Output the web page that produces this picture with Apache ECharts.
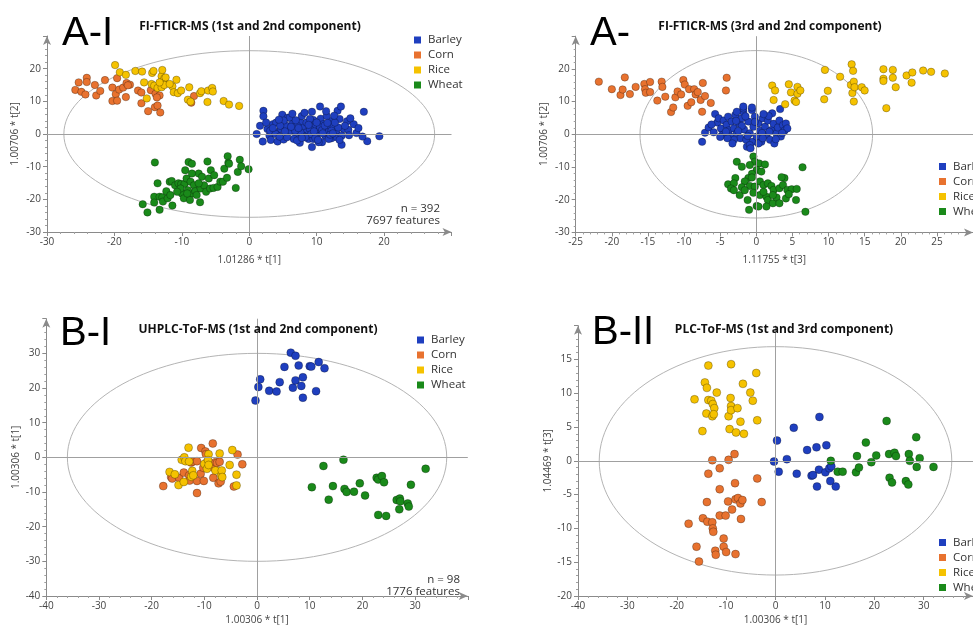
<!DOCTYPE html>
<html>
<head>
<meta charset="utf-8">
<script src="https://cdn.jsdelivr.net/npm/echarts@6.0.0/dist/echarts.min.js"></script>
<style>
  html, body { margin: 0; padding: 0; background: #fff; }
  #chart { width: 973px; height: 626px; }
</style>
</head>
<body>
<div id="chart"></div>
<script>
  // groups
  var groups = ['Barley', 'Corn', 'Rice', 'Wheat']
  var groupColors = ['#1f3fbf', '#e8722f', '#f5c200', '#1a8a1a']

  // A-I : FI-FTICR-MS, t[1] vs t[2]
  var a1Barley = [[1.1, 0.0], [2.1, 7.1], [2.1, 5.4], [2.0, -2.3], [1.6, 2.5], [2.7, 1.5], [3.0, -0.5], [3.2, -1.8], [3.5, 3.0], [4.0, 3.5], [4.1, 0.5], [4.2, -2.3], [4.9, 5.9], [4.7, 1.5], [5.1, -1.7], [5.5, 2.5], [5.7, 5.0], [6.0, 5.0], [5.8, 0.5], [6.4, 3.0], [6.6, 1.5], [7.0, -0.5], [7.5, -2.7], [7.6, 3.5], [7.8, 5.5], [8.1, 2.0], [8.5, 0.5], [8.8, -1.5], [9.3, -4.0], [9.3, 6.8], [9.5, 4.3], [9.8, 2.5], [10.3, 1.0], [10.5, 8.4], [10.6, 4.7], [10.8, -2.5], [11.0, 3.0], [11.3, -0.5], [11.8, 1.5], [12.0, 4.0], [12.2, -1.3], [12.5, 2.5], [12.9, 0.5], [13.1, 7.1], [13.4, 4.6], [13.6, 8.4], [13.7, -3.3], [14.0, 1.5], [14.5, 3.9], [14.7, 1.3], [15.5, 3.0], [15.9, 0.3], [17.0, 6.8], [17.5, -2.2], [19.3, -0.7], [5.1, 4.1], [6.6, -1.5], [8.0, -0.5], [9.0, 1.5], [10.0, -0.5], [11.5, 0.5], [9.5, -1.5], [7.1, 2.5], [6.1, 1.0], [8.5, 3.5], [10.5, 2.0], [12.2, 1.0], [13.2, 2.0], [3.1, 1.0], [3.9, 0.0], [4.6, 2.5], [7.6, 0.5], [9.0, 4.6], [10.0, 3.5], [11.5, 5.5], [12.7, 3.5], [5.6, -1.0], [7.1, -2.0], [10.3, -2.5], [11.8, -1.5], [13.0, -1.0], [13.7, -0.5], [14.2, 2.5], [6.8, 1.0], [9.2, 0.0], [10.8, 1.2], [8.3, -1.0], [12.0, -0.2], [9.8, -1.2], [7.3, 1.8], [11.2, 2.6], [3.5, 1.8], [4.5, -0.8], [5.3, 0.8], [6.2, 2.2], [6.9, 4.2], [7.8, -1.2], [8.8, 2.8], [9.6, 0.8], [10.2, -1.8], [10.9, 0.2], [11.6, 3.4], [12.4, 0.2], [13.4, -1.8], [14.8, -0.4], [16.2, 1.8], [15.0, 4.8], [8.2, 6.5], [6.4, 6.2], [11.4, 7.0], [12.6, 5.6], [4.4, 4.4], [2.5, 3.5], [16.8, -0.8]]
  var a1Corn = [[-25.8, 13.5], [-25.3, 15.8], [-24.9, 12.9], [-24.3, 12.1], [-24.1, 17.2], [-24.1, 15.9], [-22.9, 15.0], [-22.7, 11.8], [-22.1, 13.2], [-21.4, 16.5], [-20.3, 14.2], [-20.3, 10.1], [-19.8, 12.2], [-19.6, 10.2], [-19.6, 17.1], [-19.3, 13.6], [-18.7, 14.2], [-18.3, 11.3], [-18.2, 15.6], [-17.7, 15.1], [-18.0, 14.9], [-16.5, 13.3], [-16.0, 12.7], [-16.0, 9.4], [-15.0, 7.0], [-14.6, 13.4], [-14.0, 8.2], [-13.9, 12.3], [-13.6, 8.7], [-13.3, 11.8], [-13.2, 6.6], [-13.7, 11.2], [-8.2, 11.6], [-8.6, 9.6]]
  var a1Rice = [[-19.9, 21.1], [-19.2, 18.9], [-18.3, 18.1], [-16.9, 19.3], [-15.9, 19.1], [-15.6, 15.8], [-15.2, 10.9], [-14.4, 18.7], [-14.2, 19.3], [-14.5, 15.3], [-14.1, 14.8], [-13.6, 14.1], [-13.0, 17.7], [-12.9, 19.6], [-12.7, 15.9], [-12.6, 17.0], [-12.4, 17.3], [-13.0, 14.3], [-12.6, 15.0], [-11.4, 14.6], [-11.2, 12.8], [-10.8, 16.6], [-10.6, 12.5], [-10.1, 13.3], [-8.9, 14.3], [-9.1, 10.5], [-8.7, 9.9], [-7.3, 12.5], [-7.1, 13.1], [-6.2, 9.8], [-6.1, 13.3], [-5.5, 14.1], [-5.4, 13.0], [-3.8, 10.1], [-3.0, 9.0], [-1.5, 8.6], [-13.3, 15.8], [-11.8, 15.3]]
  var a1Wheat = [[-14.0, -8.7], [-15.8, -21.5], [-15.1, -24.0], [-14.1, -19.2], [-13.3, -19.2], [-14.1, -21.0], [-13.6, -15.1], [-13.3, -23.2], [-12.9, -19.4], [-12.8, -20.7], [-12.3, -17.5], [-12.1, -19.7], [-11.8, -14.6], [-11.5, -14.4], [-11.4, -21.9], [-11.0, -15.7], [-10.5, -15.1], [-10.1, -15.3], [-10.0, -18.2], [-9.6, -15.3], [-9.3, -13.6], [-9.5, -11.1], [-9.0, -8.6], [-8.5, -9.1], [-8.7, -14.6], [-8.2, -15.7], [-8.5, -18.2], [-9.1, -17.2], [-9.7, -19.7], [-8.8, -20.2], [-8.0, -17.5], [-7.8, -18.7], [-7.5, -12.1], [-7.3, -20.9], [-7.2, -16.7], [-7.0, -13.1], [-6.7, -15.7], [-6.2, -8.4], [-6.4, -17.7], [-6.0, -13.6], [-5.8, -16.7], [-5.7, -11.1], [-5.3, -16.5], [-5.2, -12.6], [-4.7, -16.2], [-4.3, -14.6], [-3.9, -14.6], [-3.7, -10.6], [-3.3, -13.4], [-3.2, -6.8], [-3.1, -8.8], [-3.0, -9.1], [-2.0, -16.5], [-1.7, -11.6], [-1.4, -7.9], [-1.2, -9.9], [-0.1, -10.8], [-10.2, -16.7], [-10.7, -17.7], [-11.7, -18.7], [-7.5, -15.1], [-8.5, -12.1], [-9.2, -18.2]]

  // A-II : FI-FTICR-MS, t[3] vs t[2]
  var a2Barley = [[-7.5, -2.3], [-7.1, 0.5], [-6.6, 2.1], [-5.9, 0.6], [-5.7, 6.2], [-5.4, 3.6], [-5.2, 4.9], [-4.9, 1.8], [-4.7, -0.2], [-4.5, 4.2], [-4.1, 2.9], [-3.9, 5.4], [-3.8, 1.2], [-3.6, -0.7], [-3.4, 3.9], [-3.1, 1.8], [-2.9, 5.9], [-2.7, 0.3], [-2.4, 3.4], [-2.2, -1.2], [-2.0, 4.9], [-1.8, 6.9], [-1.7, 1.5], [-1.4, -1.7], [-1.3, -3.8], [-1.1, 3.9], [-0.9, 0.3], [-0.6, 7.4], [-0.5, -2.3], [-0.4, 2.3], [-0.2, 5.4], [0.05, -0.7], [0.3, 3.4], [0.5, 1.1], [0.7, -2.3], [0.9, 4.9], [1.2, 2.3], [1.4, -0.2], [1.6, 4.2], [1.9, -1.7], [2.1, 1.3], [2.2, 6.4], [2.4, 3.2], [2.5, -2.8], [2.8, 0.3], [3.0, 2.1], [3.2, 4.2], [3.3, 7.7], [3.4, -0.7], [3.7, 2.8], [3.9, 1.1], [4.1, 3.3], [4.3, 1.8], [-3.1, -1.7], [-4.0, -1.2], [0.3, -2.8], [-0.9, -3.3], [-1.8, 7.9], [-2.7, 6.9], [-1.8, 8.5], [-0.6, 8.2], [-1.2, -0.5], [0.8, 0.4], [-2.0, 2.6], [1.8, 0.8], [-6.2, 3.0], [-5.0, -0.8], [-3.3, -2.8], [-2.5, 1.0], [-1.5, 5.5], [-0.2, 3.8], [0.9, -1.2], [1.7, 5.6], [2.7, -1.5], [3.6, 0.4], [-4.2, 0.8], [-2.8, 4.1], [1.0, 6.2], [-0.8, -4.3]]
  var a2Corn = [[-21.8, 16.1], [-20.0, 13.8], [-18.8, 12.0], [-18.5, 13.7], [-18.2, 17.4], [-17.5, 12.3], [-16.7, 14.5], [-15.5, 15.4], [-15.4, 13.8], [-15.3, 12.7], [-14.7, 16.0], [-14.7, 12.9], [-13.7, 10.3], [-13.1, 16.1], [-13.0, 14.5], [-12.6, 11.5], [-11.8, 6.8], [-11.5, 8.2], [-11.2, 11.3], [-10.9, 13.1], [-10.4, 12.2], [-10.1, 16.6], [-9.9, 15.2], [-9.5, 8.7], [-9.3, 13.8], [-9.0, 9.8], [-8.6, 13.8], [-8.4, 12.2], [-8.1, 12.9], [-7.7, 10.5], [-7.5, 6.9], [-7.4, 15.7], [-7.1, 11.7], [-6.3, 9.6], [-4.2, 13.4], [-4.1, 17.3]]
  var a2Rice = [[2.2, 14.9], [2.6, 13.4], [2.4, 10.5], [4.0, 9.2], [4.5, 15.3], [4.8, 12.8], [5.3, 10.3], [5.5, 9.9], [5.7, 14.5], [5.7, 12.4], [6.1, 13.4], [9.5, 19.7], [9.4, 10.7], [9.9, 13.3], [11.6, 17.6], [13.2, 21.4], [13.4, 19.4], [13.1, 15.1], [13.5, 16.1], [13.3, 12.6], [13.5, 10.0], [13.6, 14.4], [14.6, 14.4], [15.0, 13.4], [17.6, 19.9], [17.6, 17.0], [17.6, 16.3], [18.0, 8.0], [18.9, 19.7], [18.9, 17.3], [19.3, 14.4], [20.8, 18.0], [21.5, 15.8], [21.6, 18.9], [23.1, 19.5], [24.2, 19.1], [26.1, 18.6]]
  var a2Wheat = [[-2.7, -8.4], [-2.0, -9.9], [-0.4, -6.8], [-0.2, -8.4], [0.4, -8.9], [1.2, -9.2], [-0.9, -9.4], [0.05, -10.9], [0.7, -11.4], [-0.6, -12.1], [-1.1, -13.4], [-2.9, -13.4], [-1.6, -14.4], [-3.9, -15.3], [-3.1, -15.0], [-2.0, -16.2], [-0.9, -15.8], [-0.2, -16.0], [0.5, -14.4], [1.0, -15.5], [1.6, -15.0], [2.1, -15.8], [2.4, -17.0], [3.2, -16.5], [3.7, -15.5], [3.9, -13.4], [3.5, -13.1], [4.3, -17.0], [4.9, -16.8], [5.6, -16.7], [6.4, -10.1], [6.8, -23.7], [-3.5, -16.6], [-2.3, -18.6], [-1.2, -20.1], [0.05, -21.9], [-1.0, -23.1], [0.5, -18.6], [1.4, -19.1], [1.6, -20.1], [2.3, -21.1], [2.8, -19.3], [3.2, -21.1], [4.1, -19.6], [4.5, -18.3], [5.5, -20.1], [-3.1, -17.1], [-1.6, -17.1], [-0.4, -17.9], [1.0, -17.6], [2.3, -18.6], [0.3, -22.1], [-0.6, -13.2], [1.4, -22.1]]

  // B-I : UHPLC-ToF-MS, t[1] vs t[2]
  var b1Barley = [[-0.3, 16.4], [0.25, 20.3], [0.6, 22.5], [2.3, 19.2], [3.7, 19.0], [4.3, 21.7], [5.2, 26.1], [6.4, 30.2], [6.8, 20.1], [7.3, 29.3], [7.3, 22.2], [7.9, 26.5], [8.4, 20.6], [8.7, 23.1], [8.7, 17.2], [10.0, 26.3], [10.3, 26.2], [11.2, 19.1], [11.7, 27.5], [12.8, 25.7]]
  var b1Corn = [[-17.8, -8.3], [-16.3, -5.7], [-16.1, -6.1], [-14.8, -5.9], [-13.9, -4.4], [-12.9, -5.2], [-12.8, -6.7], [-12.5, -1.5], [-12.2, -1.2], [-11.4, -10.3], [-11.4, -1.1], [-11.4, -6.8], [-10.7, -4.7], [-10.6, 2.7], [-10.2, -3.0], [-10.1, -6.8], [-9.8, 1.7], [-9.7, 0.9], [-9.5, -1.4], [-8.4, 4.0], [-8.3, -5.9], [-8.2, -3.0], [-7.9, -1.4], [-7.6, -1.6], [-7.3, -7.5], [-7.1, -1.3], [-6.9, -7.0], [-4.4, -8.4], [-3.7, 0.8], [-2.8, -2.0]]
  var b1Rice = [[-16.6, -4.2], [-15.6, -4.9], [-14.9, -8.0], [-14.3, -0.7], [-13.9, -7.1], [-13.8, 0.0], [-13.6, -1.1], [-13.0, 2.8], [-12.9, -1.2], [-12.5, -5.6], [-12.3, -3.9], [-12.1, -5.2], [-10.0, -1.9], [-9.5, -3.3], [-9.2, 0.9], [-9.3, -0.8], [-9.2, -2.2], [-7.9, -3.8], [-7.1, 1.1], [-6.8, -5.2], [-6.7, -3.8], [-6.6, -5.7], [-5.2, -2.2], [-4.7, 2.1], [-3.9, -5.0], [-3.9, -8.1]]
  var b1Wheat = [[10.4, -8.6], [12.6, -2.5], [13.6, -12.2], [14.4, -8.3], [16.4, -0.7], [16.6, -9.1], [17.0, -10.0], [18.4, -9.9], [19.5, -7.5], [20.5, -11.0], [22.7, -5.9], [23.0, -6.4], [23.0, -16.6], [23.7, -5.4], [24.1, -7.2], [24.5, -16.9], [26.5, -12.3], [27.1, -11.9], [27.2, -12.7], [27.0, -15.0], [28.6, -13.3], [28.8, -14.2], [29.2, -7.9], [32.0, -3.3]]

  // B-II : UHPLC-ToF-MS, t[1] vs t[3]
  var b2Barley = [[-0.3, -0.1], [0.3, 3.0], [0.65, -1.6], [2.3, 0.25], [3.7, 4.9], [4.3, -1.9], [6.4, 1.6], [7.3, -2.2], [7.6, -2.1], [8.3, 2.0], [8.4, -3.8], [8.8, -1.3], [8.9, 6.5], [10.1, -1.7], [10.3, 2.3], [10.9, -1.1], [11.1, -3.0], [11.3, -0.8], [12.2, -3.8]]
  var b2Corn = [[-17.6, -9.3], [-16.0, -12.7], [-15.5, -14.9], [-14.7, -8.5], [-13.9, -6.1], [-13.8, -9.0], [-13.6, -1.9], [-12.8, 0.1], [-12.8, -9.1], [-12.7, -10.0], [-12.6, -10.5], [-12.2, -13.3], [-12.1, -13.9], [-11.3, -1.1], [-11.3, -4.2], [-11.3, -8.1], [-10.5, -11.5], [-10.5, -12.7], [-10.1, -8.1], [-10.0, -13.5], [-9.6, -6.0], [-9.5, 0.15], [-8.8, -7.2], [-8.3, 1.0], [-8.2, -3.3], [-8.1, -5.7], [-8.1, -13.8], [-7.6, -5.5], [-7.1, -6.3], [-7.0, -8.6], [-6.7, -5.8], [-3.7, -2.6], [-2.8, -6.1]]
  var b2Rice = [[-16.4, 9.1], [-14.8, 4.4], [-14.3, 11.6], [-14.0, 7.0], [-13.9, 10.8], [-13.6, 14.1], [-13.6, 9.0], [-13.0, 8.9], [-12.8, 6.6], [-12.7, 8.4], [-12.4, 7.8], [-12.5, 6.9], [-11.9, 10.1], [-9.5, 6.6], [-9.3, 4.7], [-9.1, 9.3], [-9.0, 14.3], [-9.0, 8.1], [-9.0, 7.5], [-8.0, 4.2], [-7.7, 7.8], [-7.1, 5.8], [-6.6, 11.4], [-6.4, 4.0], [-5.1, 10.1], [-4.6, 8.9], [-3.9, 13.0], [-3.7, 6.0]]
  var b2Wheat = [[11.2, 0.0], [12.6, -1.6], [13.6, -1.6], [16.3, -1.7], [16.5, 0.7], [16.9, -1.0], [18.3, 2.7], [19.4, -0.2], [20.4, 0.8], [22.5, 5.9], [23.0, 1.0], [23.1, -2.5], [23.6, -3.2], [24.1, 1.2], [24.4, 0.7], [26.4, -3.0], [26.9, -3.5], [27.0, 1.0], [27.2, 0.0], [28.5, 3.5], [28.6, -0.9], [29.2, 0.4], [32.0, -0.9]]

  // Hotelling ellipses [cx, cy, rx, ry]
  var a1Ellipse = [0, 0, 27.5, 25.5]
  var a2Ellipse = [0, 0, 16.1, 25.6]
  var b1Ellipse = [0, 0, 36, 30]
  var b2Ellipse = [0, 0, 35.7, 16.9]

  // axis ranges [min, max, interval]
  var a1X = [-30, 30, 10], a1Y = [-30, 30, 10]
  var a2X = [-25, 30, 5], a2Y = [-30, 30, 10]
  var b1X = [-40, 40, 10], b1Y = [-40, 40, 10]
  var b2X = [-40, 40, 10], b2Y = [-20, 20, 5]

  var axisNames = [
    ['1.01286 * t[1]', '1.00706 * t[2]'],
    ['1.11755 * t[3]', '1.00706 * t[2]'],
    ['1.00306 * t[1]', '1.00306 * t[1]'],
    ['1.00306 * t[1]', '1.04469 * t[3]']
  ]
  var panelTitles = ['FI-FTICR-MS (1st and 2nd component)', 'FI-FTICR-MS (3rd and 2nd component)',
    'UHPLC-ToF-MS (1st and 2nd component)', 'PLC-ToF-MS (1st and 3rd component)']
  var panelLabels = ['A-I', 'A-', 'B-I', 'B-II']

  var FONT = '"Open Sans", "Noto Sans", sans-serif'
  var panels = [
    { data: [a1Barley, a1Corn, a1Rice, a1Wheat], ell: a1Ellipse, x: a1X, y: a1Y, size: 7.5 },
    { data: [a2Barley, a2Corn, a2Rice, a2Wheat], ell: a2Ellipse, x: a2X, y: a2Y, size: 7.5 },
    { data: [b1Barley, b1Corn, b1Rice, b1Wheat], ell: b1Ellipse, x: b1X, y: b1Y, size: 8 },
    { data: [b2Barley, b2Corn, b2Rice, b2Wheat], ell: b2Ellipse, x: b2X, y: b2Y, size: 8 }
  ]
  var grids = [
    { left: 47, top: 36, width: 404.5, height: 196 },
    { left: 575.7, top: 36.2, width: 405, height: 196.2 },
    { left: 46.3, top: 318.7, width: 421.5, height: 282.3 },
    { left: 578, top: 325.7, width: 405.2, height: 272.3 }
  ]
  var nameGaps = [[23, 27], [23, 27], [19, 25], [19, 23]]

  function makeAxis(range, idx, name, gap, isX) {
    return {
      type: 'value', gridIndex: idx, min: range[0], max: range[1], interval: range[2],
      name: name, nameLocation: 'middle', nameGap: gap,
      nameTextStyle: { fontSize: 10, color: '#444', fontFamily: FONT },
      axisLine: { onZero: false, lineStyle: { color: '#8a8a8a', width: 1 }, symbol: ['none', 'arrow'], symbolSize: [6, 9] },
      axisTick: { show: true, length: 4, lineStyle: { color: '#8a8a8a' } },
      minorTick: { show: true, splitNumber: 5, length: 2, lineStyle: { color: '#a0a0a0' } },
      axisLabel: { fontSize: 10, color: '#444', fontFamily: FONT, showMaxLabel: false, margin: isX ? 5 : 6 },
      splitLine: { show: false }
    }
  }

  var xAxes = [], yAxes = [], series = []
  panels.forEach(function(p, i) {
    xAxes.push(makeAxis(p.x, i, axisNames[i][0], nameGaps[i][0], true))
    yAxes.push(makeAxis(p.y, i, axisNames[i][1], nameGaps[i][1], false))
    // ellipse + zero lines
    series.push({
      type: 'custom', name: 'ellipse' + i, xAxisIndex: i, yAxisIndex: i, silent: true, z: 1,
      data: [p.ell],
      renderItem: function(params, api) {
        var c = api.coord([api.value(0), api.value(1)])
        var s = api.size([api.value(2), api.value(3)])
        return { type: 'ellipse', shape: { cx: c[0], cy: c[1], rx: s[0], ry: s[1] },
          style: { fill: 'none', stroke: '#b4b4b4', lineWidth: 1 } }
      }
    })
    series.push({
      type: 'line', name: 'zero' + i, xAxisIndex: i, yAxisIndex: i, data: [], silent: true, z: 1,
      markLine: {
        silent: true, symbol: 'none', label: { show: false },
        lineStyle: { color: '#a0a0a0', type: 'solid', width: 1 },
        data: [{ xAxis: 0 }, { yAxis: 0 }]
      }
    })
    p.data.forEach(function(d, g) {
      series.push({
        type: 'scatter', name: groups[g], xAxisIndex: i, yAxisIndex: i, z: 3,
        symbolSize: p.size, data: d,
        itemStyle: { color: groupColors[g], opacity: 1, borderColor: 'rgba(0,0,0,0.45)', borderWidth: 0.6 }
      })
    })
  })

  var legendPos = [[409, 27.5], [934, 154], [412, 327.5], [934, 530]]
  var legends = legendPos.map(function(pos) {
    return {
      data: groups, left: pos[0], top: pos[1], orient: 'vertical', icon: 'rect',
      itemWidth: 7, itemHeight: 7, itemGap: 0,
      itemStyle: { borderWidth: 0 },
      textStyle: { fontSize: 11.5, color: '#333', fontFamily: FONT, lineHeight: 15, padding: [0, 0, 0, 2] },
      selectedMode: false
    }
  })

  var titlePos = [[250, 27], [770, 27], [258, 330], [784, 330]]
  var labelPos = [[62, 34], [590, 34], [60, 334], [592, 333]]
  var graphics = []
  titlePos.forEach(function(pos, i) {
    graphics.push({ type: 'text', x: pos[0], y: pos[1], z: 10,
      style: { text: panelTitles[i], align: 'center', verticalAlign: 'middle', fill: '#111',
        font: 'bold 12px ' + FONT } })
    graphics.push({ type: 'text', x: labelPos[i][0], y: labelPos[i][1], z: 10,
      style: { text: panelLabels[i], align: 'left', verticalAlign: 'middle', fill: '#000',
        font: '40px "Liberation Sans", sans-serif' } })
  })
  graphics.push({ type: 'text', x: 440, y: 209, style: { text: 'n = 392', align: 'right', verticalAlign: 'middle', fill: '#333', font: '11.5px ' + FONT } })
  graphics.push({ type: 'text', x: 440, y: 221, style: { text: '7697 features', align: 'right', verticalAlign: 'middle', fill: '#333', font: '11.5px ' + FONT } })
  graphics.push({ type: 'text', x: 460, y: 580, style: { text: 'n = 98', align: 'right', verticalAlign: 'middle', fill: '#333', font: '11.5px ' + FONT } })
  graphics.push({ type: 'text', x: 460, y: 592, style: { text: '1776 features', align: 'right', verticalAlign: 'middle', fill: '#333', font: '11.5px ' + FONT } })

  var myChart = echarts.init(document.getElementById('chart'), null, { renderer: 'canvas' })
  myChart.setOption({
    animation: false,
    backgroundColor: '#fff',
    grid: grids,
    xAxis: xAxes,
    yAxis: yAxes,
    legend: legends,
    graphic: graphics,
    series: series
  })
</script>
</body>
</html>
